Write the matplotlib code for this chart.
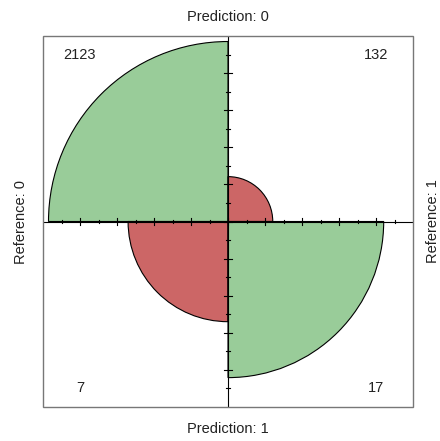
import numpy as np
import matplotlib.pyplot as plt
from matplotlib.patches import Wedge, Rectangle

plt.rcParams['font.family'] = ['Liberation Sans', 'DejaVu Sans']

# confusion matrix: rows = Prediction, columns = Reference
counts = np.array([[2123, 132],
                   [7, 17]])
pred_labels = ['Prediction: 0', 'Prediction: 1']
ref_labels = ['Reference: 0', 'Reference: 1']
colors = ['#CC6666', '#99CC99']

# standardize rows to sum 1, radius = sqrt of proportion
std = counts / counts.sum(axis=1, keepdims=True)
radii = np.sqrt(std)

fig = plt.figure(figsize=(4.4, 4.41), dpi=100)
ax = fig.add_axes([43 / 440, 34 / 441, 370 / 440, 371 / 441])
ax.set_xlim(-1, 1)
ax.set_ylim(-1, 1)
ax.axis('off')

# quadrants: (row, col, theta1, theta2, colour)
quads = [(0, 0, 90, 180, colors[1]),
         (0, 1, 0, 90, colors[0]),
         (1, 0, 180, 270, colors[0]),
         (1, 1, 270, 360, colors[1])]
for i, j, t1, t2, c in quads:
    ax.add_patch(Wedge((0, 0), radii[i, j], t1, t2, facecolor=c,
                       edgecolor='black', linewidth=0.8, zorder=2))

ax.add_patch(Rectangle((-1, -1), 2, 2, fill=False, edgecolor='#777777',
                       linewidth=1.0, clip_on=False, zorder=4))

# axes through the centre with ticks
ax.plot([-1, 1], [0, 0], color='black', lw=0.8, zorder=3)
ax.plot([0, 0], [-1, 1], color='black', lw=0.8, zorder=3)
for t in np.arange(-0.8, 0.81, 0.2):
    ax.plot([t, t], [-0.02, 0.02], color='black', lw=0.8, zorder=3)
    ax.plot([-0.02, 0.02], [t, t], color='black', lw=0.8, zorder=3)
for t in np.arange(-0.9, 0.91, 0.2):
    ax.plot([t, t], [-0.01, 0.01], color='black', lw=0.8, zorder=3)
    ax.plot([-0.01, 0.01], [t, t], color='black', lw=0.8, zorder=3)

fs = 10.5
tc = '#222222'
ax.text(0, 1.104, pred_labels[0], ha='center', va='center', fontsize=fs, color=tc, clip_on=False)
ax.text(0, -1.116, pred_labels[1], ha='center', va='center', fontsize=fs, color=tc, clip_on=False)
ax.text(-1.119, 0, ref_labels[0], ha='center', va='center', rotation=90, fontsize=fs, color=tc, clip_on=False)
ax.text(1.11, 0, ref_labels[1], ha='center', va='center', rotation=90, fontsize=fs, color=tc, clip_on=False)

pos = {(0, 0): (-0.8, 0.9), (0, 1): (0.8, 0.9), (1, 0): (-0.8, -0.9), (1, 1): (0.8, -0.9)}
for (i, j), (x, y) in pos.items():
    ax.text(x, y, str(counts[i, j]), ha='center', va='center', fontsize=fs, color=tc, zorder=5)

fig.savefig('out.png', dpi=100, facecolor='white')
